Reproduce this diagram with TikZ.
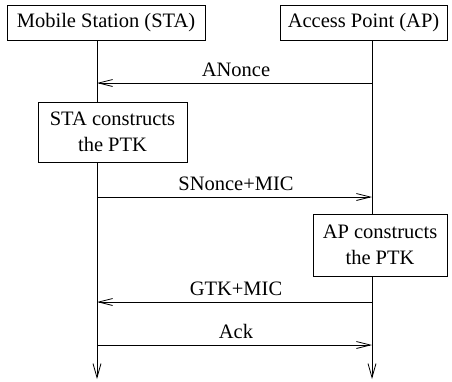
\documentclass[tikz,border=0pt]{standalone}
\usepackage{fontspec}
\setmainfont{Liberation Serif}
\usetikzlibrary{arrows.meta}
\begin{document}
\begin{tikzpicture}[x=1pt,y=1pt,
  every node/.style={font=\fontsize{20.5}{26}\selectfont},
  party/.style={draw, line width=0.8pt, inner sep=0pt},
  work/.style={draw, line width=0.8pt, inner sep=0pt, align=center},
  life/.style={line width=0.8pt, -{Straight Barb[length=14pt,width=8pt,line width=0.8pt]}},
  msg/.style={line width=0.8pt, -{Straight Barb[length=14pt,width=7pt,line width=0.8pt]}},
  lbl/.style={anchor=base, inner sep=0pt}]
\useasboundingbox (0,0) rectangle (452,-381);

% participants
\node[party, minimum width=198pt, minimum height=35pt] (sta) at (106,-22.5) {Mobile Station (STA)};
\node[party, minimum width=167pt, minimum height=35pt] (ap) at (363.5,-22.5) {Access Point (AP)};

% lifelines
\coordinate (staTop) at (97,-40);
\coordinate (staEnd) at (97,-379);
\coordinate (apTop) at (372,-40);
\coordinate (apEnd) at (372,-379);
\draw[life] (staTop) -- (staEnd);
\draw[life] (apTop) -- (apEnd);

% message endpoints
\coordinate (a1) at (372,-83);  \coordinate (a2) at (97,-83);
\coordinate (b1) at (97,-197);  \coordinate (b2) at (372,-197);
\coordinate (c1) at (372,-302); \coordinate (c2) at (97,-302);
\coordinate (d1) at (97,-345);  \coordinate (d2) at (372,-345);

% local computation boxes
\node[work, minimum width=149pt, minimum height=60pt, fill=white] (staWork) at (112.5,-132) {STA constructs\\the PTK};
\node[work, minimum width=134pt, minimum height=62pt, fill=white] (apWork) at (380,-245) {AP constructs\\the PTK};

% messages
\draw[msg] (a1) -- (a2);
\node[lbl] at (236,-76) {ANonce};
\draw[msg] (b1) -- (b2);
\node[lbl] at (236,-190) {SNonce+MIC};
\draw[msg] (c1) -- (c2);
\node[lbl] at (236,-295) {GTK+MIC};
\draw[msg] (d1) -- (d2);
\node[lbl] at (236,-338) {Ack};
\end{tikzpicture}
\end{document}
